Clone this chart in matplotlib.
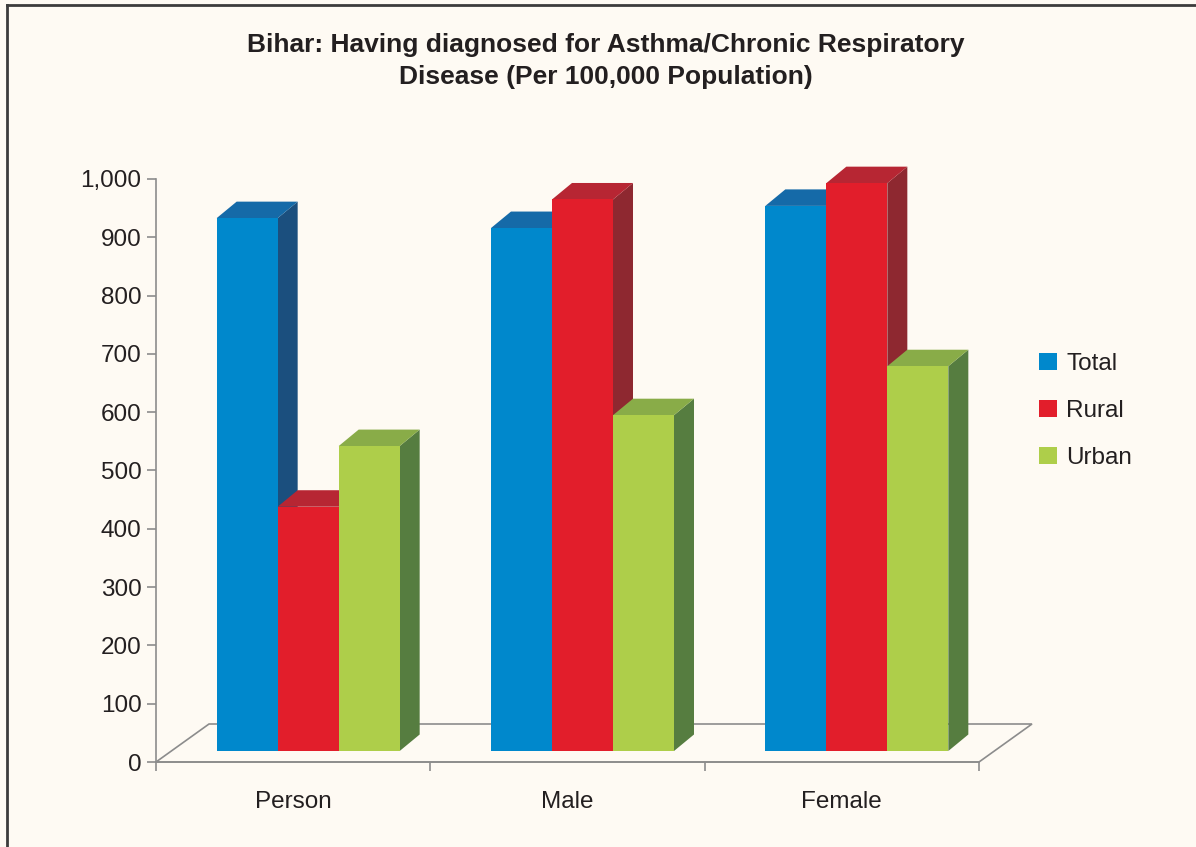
import numpy as np
import matplotlib
matplotlib.use('Agg')
import matplotlib.pyplot as plt
from matplotlib.patches import Polygon
from matplotlib.lines import Line2D
from matplotlib.ticker import FuncFormatter

plt.rcParams['font.family'] = ['Liberation Sans', 'DejaVu Sans']

categories = ['Person', 'Male', 'Female']
series = ['Total', 'Rural', 'Urban']
total = [914, 897, 935]
rural = [419, 946, 974]
urban = [523, 576, 660]
yticks = np.arange(0, 1001, 100)

front_colors = ['#0088cc', '#e21e2b', '#aece4a']
top_colors = ['#156aa8', '#b72633', '#89ac48']
side_colors = ['#1b4f7e', '#8e2830', '#567d40']
bg = '#fefaf3'
grey = '#8c8c8c'
txt = '#231f20'

W, H = 1196, 847
fig = plt.figure(figsize=(W / 100, H / 100), dpi=100, facecolor=bg)
# plot box in pixels: x 156..979 for the 3 categories, y 762..179 for 0..1000
ax = fig.add_axes([156 / W, (H - 762) / H, 823 / W, 583 / H])
ax.set_facecolor('none')
ax.set_xlim(0, 3)
ax.set_ylim(0, 1000)

px = 3 / 823      # x data units per pixel
py = 1000 / 583   # y data units per pixel

# floor of the fake 3d box
fdx, fdy = 53 * px, 38 * py
floor = Polygon([(0, 0), (fdx, fdy), (3 + fdx, fdy), (3, 0)], closed=True,
                fill=False, edgecolor=grey, lw=1.2, zorder=1, clip_on=False)
ax.add_patch(floor)

# bars: front face with ax.bar, top + side faces as polygons
bw = 61 * px
off_x, off_y = 15 * px, 11 * py
ddx, ddy = 20 * px, 16.5 * py
x0 = np.arange(len(categories)) + 0.5 - 1.5 * bw + off_x

handles = []
for i, vals in enumerate([total, rural, urban]):
    xs = x0 + i * bw
    bars = ax.bar(xs, vals, width=bw, bottom=off_y, align='edge',
                  color=front_colors[i], label=series[i], zorder=5 + 3 * i,
                  clip_on=False, linewidth=0)
    handles.append(bars)
    for b in bars:
        xl = b.get_x()
        xr = xl + b.get_width()
        yb = b.get_y()
        yt = yb + b.get_height()
        side = Polygon([(xr, yb), (xr + ddx, yb + ddy), (xr + ddx, yt + ddy), (xr, yt)],
                       closed=True, facecolor=side_colors[i], lw=0,
                       zorder=3 + 3 * i, clip_on=False)
        top = Polygon([(xl, yt), (xl + ddx, yt + ddy), (xr + ddx, yt + ddy), (xr, yt)],
                      closed=True, facecolor=top_colors[i], lw=0,
                      zorder=4 + 3 * i, clip_on=False)
        ax.add_patch(side)
        ax.add_patch(top)

# axes
for s in ['top', 'right']:
    ax.spines[s].set_visible(False)
for s in ['left', 'bottom']:
    ax.spines[s].set_color(grey)
    ax.spines[s].set_linewidth(1.2)
ax.spines['bottom'].set_zorder(2)

ax.set_yticks(yticks)
ax.yaxis.set_major_formatter(FuncFormatter(lambda v, p: f'{v:,.0f}'))
ax.tick_params(axis='y', length=6.5, width=1.2, color=grey, labelcolor=txt,
               labelsize=17.5, pad=4)

ax.set_xticks([0, 1, 2, 3])
ax.set_xticklabels([])
ax.set_xticks([0.5, 1.5, 2.5], minor=True)
ax.set_xticklabels(categories, minor=True)
ax.tick_params(axis='x', which='major', length=6.5, width=1.2, color=grey)
ax.tick_params(axis='x', which='minor', length=0, labelcolor=txt,
               labelsize=17.5, pad=21)

fig.text(606 / W, 1 - 61 / H,
         'Bihar: Having diagnosed for Asthma/Chronic Respiratory\nDisease (Per 100,000 Population)',
         ha='center', va='center', fontsize=19, fontweight='bold', color=txt,
         linespacing=1.45)

fig.legend(handles=handles, labels=series, loc='center left',
           bbox_to_anchor=(1039 / W, 1 - 411 / H), frameon=False,
           fontsize=17.5, handlelength=0.72, handleheight=0.72,
           handletextpad=0.4, labelspacing=1.02, borderpad=0,
           borderaxespad=0, labelcolor=txt)

# frame lines on top and left edge
fig.add_artist(Line2D([7 / W, 1], [1 - 5 / H, 1 - 5 / H], color='#3c3c3c', lw=2))
fig.add_artist(Line2D([7 / W, 7 / W], [0, 1 - 5 / H], color='#3c3c3c', lw=2))

fig.savefig('out.png', dpi=100, facecolor=bg)
